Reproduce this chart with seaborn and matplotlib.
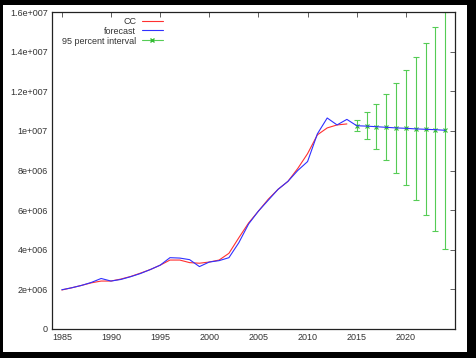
import numpy as np
import pandas as pd
import seaborn as sns
import matplotlib.pyplot as plt
from matplotlib.patches import Rectangle
from matplotlib.lines import Line2D

# values in millions
cc_years = list(range(1985, 2015))
cc_values = [1.97, 2.08, 2.20, 2.33, 2.42, 2.42, 2.52, 2.65, 2.82, 3.00,
             3.22, 3.48, 3.48, 3.35, 3.32, 3.38, 3.48, 3.82, 4.60, 5.35,
             5.95, 6.55, 7.05, 7.45, 8.10, 8.85, 9.80, 10.15, 10.30, 10.35]

fc_years = list(range(1985, 2025))
fc_values = [1.98, 2.08, 2.20, 2.35, 2.55, 2.42, 2.50, 2.64, 2.80, 3.00,
             3.22, 3.60, 3.58, 3.50, 3.15, 3.38, 3.45, 3.60, 4.35, 5.30,
             5.95, 6.50, 7.05, 7.45, 8.00, 8.45, 9.85, 10.65, 10.30, 10.58,
             10.26, 10.24, 10.21, 10.18, 10.15, 10.13, 10.10, 10.08, 10.06, 10.03]

ci_years = list(range(2015, 2025))
ci_center = [10.26, 10.24, 10.21, 10.18, 10.15, 10.13, 10.10, 10.08, 10.06, 10.03]
ci_lower = [9.97, 9.58, 9.07, 8.52, 7.89, 7.26, 6.50, 5.74, 4.93, 4.04]
ci_upper = [10.55, 10.94, 11.35, 11.85, 12.41, 13.06, 13.72, 14.44, 15.24, 16.02]

x_ticks = [1985, 1990, 1995, 2000, 2005, 2010, 2015, 2020]
y_ticks = [0, 2e6, 4e6, 6e6, 8e6, 1e7, 1.2e7, 1.4e7, 1.6e7]
y_labels = ["0", "2e+006", "4e+006", "6e+006", "8e+006", "1e+007",
            "1.2e+007", "1.4e+007", "1.6e+007"]

sns.set_style("white")
plt.rcParams['font.family'] = ['Liberation Sans', 'DejaVu Sans']

df_cc = pd.DataFrame({"year": cc_years, "value": np.array(cc_values) * 1e6})
df_fc = pd.DataFrame({"year": fc_years, "value": np.array(fc_values) * 1e6})

fig = plt.figure(figsize=(4.76, 3.58), dpi=100)
fig.patch.set_facecolor("black")
fig.patches.append(Rectangle((3 / 476, 6 / 358), 464 / 476, 347 / 358,
                             transform=fig.transFigure, facecolor="white",
                             edgecolor="none", zorder=-10))

ax = fig.add_axes([52 / 476, 29 / 358, 403 / 476, 317 / 358])

red, blue, green = "#ff3030", "#3030ff", "#55cc55"

sns.lineplot(data=df_cc, x="year", y="value", ax=ax, color=red,
             linewidth=0.8, legend=False)
sns.lineplot(data=df_fc, x="year", y="value", ax=ax, color=blue,
             linewidth=0.8, legend=False)

center = np.array(ci_center) * 1e6
err = [center - np.array(ci_lower) * 1e6, np.array(ci_upper) * 1e6 - center]
ax.errorbar(ci_years, center, yerr=err, fmt="x", color="#33bb33",
            ecolor=green, elinewidth=0.8, capsize=2, markersize=3,
            markeredgewidth=0.8, zorder=1)

ax.set_xlim(1984, 2025)
ax.set_ylim(0, 1.6e7)
ax.set_xticks(x_ticks)
ax.set_yticks(y_ticks)
ax.set_yticklabels(y_labels)
ax.set_xlabel("")
ax.set_ylabel("")
ax.tick_params(direction="in", length=3.5, width=0.6, top=True, right=True,
               labelsize=6.5, labelcolor="#333333", color="#444444", pad=3)
for sp in ax.spines.values():
    sp.set_color("#222222")
    sp.set_linewidth(0.9)

handles = [Line2D([], [], color=red, linewidth=0.8),
           Line2D([], [], color=blue, linewidth=0.8),
           Line2D([], [], color=green, linewidth=0.8, marker="x",
                  markersize=3, markeredgecolor="#33bb33")]
ax.legend(handles, ["CC", "forecast", "95 percent interval"],
          loc="upper right", bbox_to_anchor=(0.29, 1.005), frameon=False,
          markerfirst=False, fontsize=6.5, handlelength=2.3,
          labelspacing=0.1, borderpad=0.2, handletextpad=0.6,
          labelcolor="#333333")

fig.savefig("out.png", dpi=100, facecolor=fig.get_facecolor())
